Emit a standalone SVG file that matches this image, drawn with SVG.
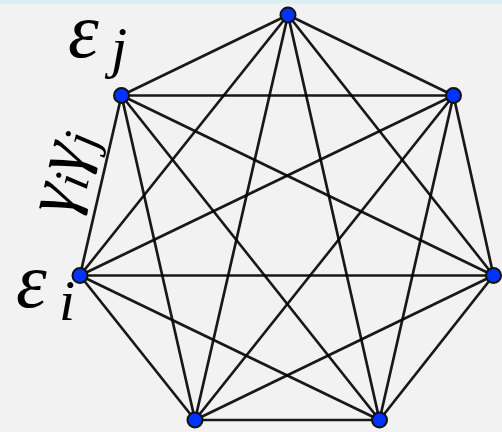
<svg xmlns="http://www.w3.org/2000/svg" width="502" height="432" viewBox="0 0 502 432">
<style>
.e{stroke:#000;stroke-width:2.7;stroke-linecap:round;fill:none;stroke-opacity:0.9}
.v{fill:#0033ff;stroke:#111;stroke-width:2}
.t{font-family:"Liberation Serif","DejaVu Serif",serif;font-style:italic;fill:#000}
</style>
<rect x="0" y="0" width="502" height="432" fill="#f2f2f2"/>
<rect x="0" y="0" width="502" height="4" fill="#dcedf3"/>
<g id="edges">
<line class="e" x1="288" y1="15" x2="121.5" y2="95.5"/>
<line class="e" x1="288" y1="15" x2="453.5" y2="95.5"/>
<line class="e" x1="288" y1="15" x2="80" y2="275.5"/>
<line class="e" x1="288" y1="15" x2="493.5" y2="275.5"/>
<line class="e" x1="288" y1="15" x2="195" y2="420"/>
<line class="e" x1="288" y1="15" x2="379.5" y2="420"/>
<line class="e" x1="121.5" y1="95.5" x2="453.5" y2="95.5"/>
<line class="e" x1="121.5" y1="95.5" x2="80" y2="275.5"/>
<line class="e" x1="121.5" y1="95.5" x2="493.5" y2="275.5"/>
<line class="e" x1="121.5" y1="95.5" x2="195" y2="420"/>
<line class="e" x1="121.5" y1="95.5" x2="379.5" y2="420"/>
<line class="e" x1="453.5" y1="95.5" x2="80" y2="275.5"/>
<line class="e" x1="453.5" y1="95.5" x2="493.5" y2="275.5"/>
<line class="e" x1="453.5" y1="95.5" x2="195" y2="420"/>
<line class="e" x1="453.5" y1="95.5" x2="379.5" y2="420"/>
<line class="e" x1="80" y1="275.5" x2="493.5" y2="275.5"/>
<line class="e" x1="80" y1="275.5" x2="195" y2="420"/>
<line class="e" x1="80" y1="275.5" x2="379.5" y2="420"/>
<line class="e" x1="493.5" y1="275.5" x2="195" y2="420"/>
<line class="e" x1="493.5" y1="275.5" x2="379.5" y2="420"/>
<line class="e" x1="195" y1="420" x2="379.5" y2="420"/>
</g>
<g id="v1"><circle class="v" cx="288" cy="15" r="7.5"/></g>
<g id="v2"><circle class="v" cx="121.5" cy="95.5" r="7.5"/></g>
<g id="v3"><circle class="v" cx="453.5" cy="95.5" r="7.5"/></g>
<g id="v4"><circle class="v" cx="80" cy="275.5" r="7.5"/></g>
<g id="v5"><circle class="v" cx="493.5" cy="275.5" r="7.5"/></g>
<g id="v6"><circle class="v" cx="195" cy="420" r="7.5"/></g>
<g id="v7"><circle class="v" cx="379.5" cy="420" r="7.5"/></g>
<g id="labels">
<text class="t" x="68" y="57" font-size="78">ε</text>
<text class="t" x="111" y="67" font-size="58">j</text>
<text class="t" x="16" y="307" font-size="78">ε</text>
<text class="t" x="59" y="320" font-size="58">i</text>
<text class="t" transform="translate(71 217) rotate(-77)" font-size="72">γ<tspan font-size="50" dy="9">i</tspan><tspan dy="-9">γ</tspan><tspan font-size="50" dy="9">j</tspan></text>
</g>
</svg>
